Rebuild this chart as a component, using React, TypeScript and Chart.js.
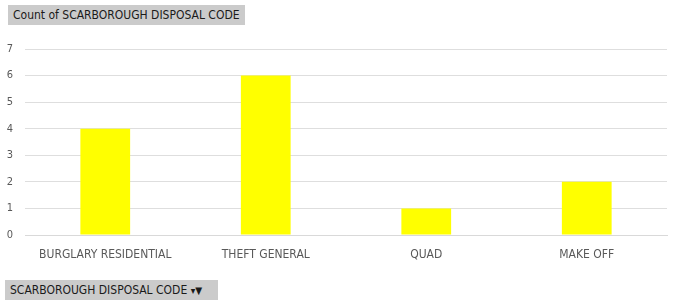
import React, { useEffect, useRef } from "react";
import { Chart, registerables } from "chart.js";

Chart.register(...registerables);

const categories = ["BURGLARY RESIDENTIAL", "THEFT GENERAL", "QUAD", "MAKE OFF"];
const counts = [4, 6, 1, 2];
const seriesLabel = "Count of SCARBOROUGH DISPOSAL CODE";
const fieldLabel = "SCARBOROUGH DISPOSAL CODE";

const FONT = "'Liberation Sans Narrow', 'DejaVu Sans Condensed', 'Noto Sans', sans-serif";

export default function App() {
  const ref = useRef<HTMLCanvasElement | null>(null);

  useEffect(() => {
    if (!ref.current) return;
    const chart = new Chart(ref.current, {
      type: "bar",
      data: {
        labels: categories,
        datasets: [
          {
            label: seriesLabel,
            data: counts,
            backgroundColor: "#ffff00",
            borderWidth: 0,
            categoryPercentage: 1,
            barPercentage: 0.31,
          },
        ],
      },
      options: {
        animation: false,
        responsive: false,
        maintainAspectRatio: false,
        layout: { padding: { top: 49, right: 8, bottom: 0, left: 0 } },
        plugins: {
          legend: { display: false },
          title: { display: false },
          tooltip: { enabled: false },
        },
        scales: {
          x: {
            grid: { display: false, drawTicks: false },
            border: { display: true, color: "#d9d9d9" },
            ticks: {
              color: "#595959",
              font: { family: FONT, size: 12 },
              padding: 13,
              maxRotation: 0,
              autoSkip: false,
            },
            afterFit: (s: any) => {
              s.height = 68;
            },
          },
          y: {
            min: 0,
            max: 7,
            grid: { color: "#dedede", drawTicks: false },
            border: { display: false },
            ticks: {
              stepSize: 1,
              color: "#595959",
              font: { family: FONT, size: 11 },
              padding: 12,
            },
            afterFit: (s: any) => {
              s.width = 25;
            },
          },
        },
      },
    });
    return () => chart.destroy();
  }, []);

  const boxStyle: React.CSSProperties = {
    position: "absolute",
    background: "#cbcbcb",
    color: "#1a1a1a",
    fontFamily: FONT,
    fontSize: 12,
    lineHeight: "20px",
    height: 20,
    padding: "0 5px",
    whiteSpace: "nowrap",
    boxSizing: "border-box",
    overflow: "hidden",
  };

  return (
    <div style={{ position: "fixed", left: 0, top: 0, width: 675, height: 303, background: "#fff", overflow: "hidden" }}>
      <canvas ref={ref} width={675} height={303} style={{ position: "absolute", left: 0, top: 0, width: 675, height: 303 }} />
      <div style={{ ...boxStyle, left: 8, top: 5, width: 237 }}>{seriesLabel}</div>
      <div style={{ ...boxStyle, left: 5, top: 280, width: 213 }}>
        {fieldLabel} <span style={{ fontSize: 10 }}>▾▼</span>
      </div>
    </div>
  );
}
